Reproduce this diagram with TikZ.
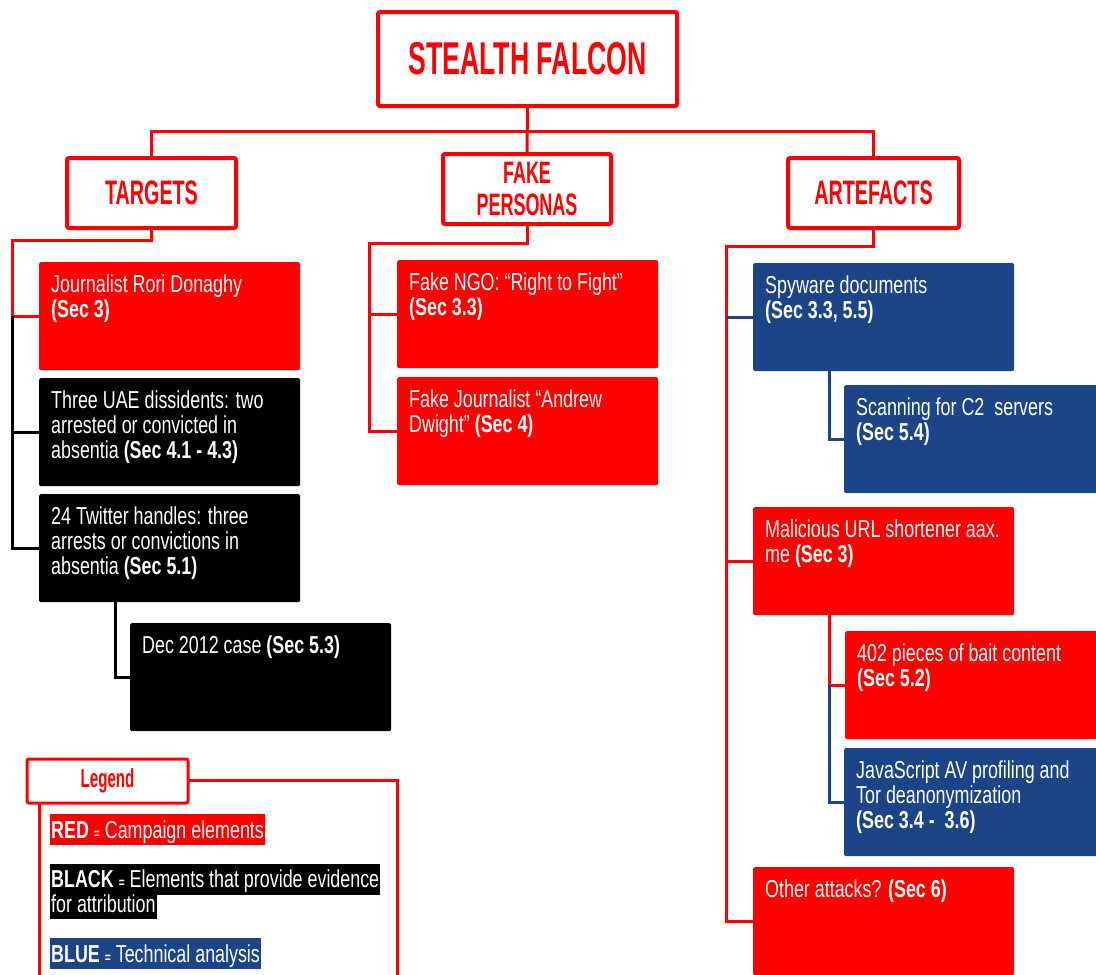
\documentclass[tikz,border=0pt]{standalone}
\usepackage{fontspec}
\setmainfont{Liberation Sans}[FakeStretch=0.73]
\newfontfamily\headfont{Liberation Sans}[FakeStretch=0.58]
\definecolor{sfred}{HTML}{FF0000}
\definecolor{sfblue}{HTML}{1C4587}
\newcommand\cellbox[5]{%
  \node[#2] (#1) at (#3,#4) {};
  \node[celltext] (#1t) at ([xshift=12pt,yshift=-13pt]#1.north west) {#5};}
\begin{document}
\begin{tikzpicture}[x=1pt,y=-1pt,
  head/.style={draw=sfred, line width=4pt, fill=white, rounded corners=2pt,
    text=sfred, font=\headfont\bfseries, align=center, inner sep=0pt},
  cell/.style={rounded corners=1.5pt, inner sep=0pt, anchor=north west,
    minimum width=261pt, minimum height=108pt},
  redcell/.style={cell, fill=sfred},
  blackcell/.style={cell, fill=black},
  bluecell/.style={cell, fill=sfblue},
  celltext/.style={text=white, font=\fontsize{24.5}{25}\selectfont, align=left,
    inner sep=0pt, anchor=north west},
  redline/.style={draw=sfred, line width=3pt},
  blackline/.style={draw=black, line width=3pt},
  blueline/.style={draw=sfblue, line width=3pt},
  legtext/.style={text=white, font=\fontsize{24.5}{25}\selectfont, inner xsep=1pt,
    inner ysep=0pt, anchor=north west}]
\useasboundingbox (0,0) rectangle (1096,975);
\fill[white] (0,0) rectangle (1096,975);

% headings
\node[head, minimum width=299pt, minimum height=94pt, font=\headfont\bfseries\fontsize{46}{48}\selectfont] (root) at (527.5,59) {STEALTH FALCON};
\node[head, minimum width=169pt, minimum height=70pt, font=\headfont\bfseries\fontsize{34}{36}\selectfont] (targets) at (151.5,193) {TARGETS};
\node[head, minimum width=168pt, minimum height=70pt, font=\headfont\bfseries\fontsize{31}{32}\selectfont] (fake) at (527,189) {FAKE\\PERSONAS};
\node[head, minimum width=171pt, minimum height=70pt, font=\headfont\bfseries\fontsize{34}{36}\selectfont] (artefacts) at (873.5,193) {ARTEFACTS};

% connectors between headings
\coordinate (bus) at (527,131);
\draw[redline] (root.south) -- (fake.north);
\draw[redline] (targets.north) |- (bus) -| (artefacts.north);

% targets column
\cellbox{journ}{redcell}{39}{262}{Journalist Rori Donaghy\\\textbf{(Sec 3)}}
\cellbox{uae}{blackcell}{39}{378}{Three UAE dissidents: two\\arrested or convicted in\\absentia \textbf{(Sec 4.1 - 4.3)}}
\cellbox{twit}{blackcell}{39}{494}{24 Twitter handles: three\\arrests or convictions in\\absentia \textbf{(Sec 5.1)}}
\cellbox{dec}{blackcell}{130}{623}{Dec 2012 case \textbf{(Sec 5.3)}}
\coordinate (tl) at (12,240);
\draw[redline] (targets.south) |- (tl) |- (journ.west);
\draw[blackline] (tl |- journ.west) |- (uae.west);
\draw[blackline] (tl |- journ.west) |- (twit.west);
\draw[blackline] ([xshift=76pt]twit.south west) |- (dec.west);

% fake personas column
\cellbox{ngo}{redcell}{397}{260}{Fake NGO: “Right to Fight”\\\textbf{(Sec 3.3)}}
\cellbox{fj}{redcell}{397}{377}{Fake Journalist “Andrew\\Dwight” \textbf{(Sec 4)}}
\coordinate (fl) at (369,243);
\draw[redline] (fake.south) |- (fl) |- (ngo.west);
\draw[redline] (fl) |- (fj.west);

% artefacts column
\cellbox{spy}{bluecell}{753}{263}{Spyware documents\\\textbf{(Sec 3.3, 5.5)}}
\cellbox{scan}{bluecell}{844}{385}{Scanning for C2\ \ servers\\\textbf{(Sec 5.4)}}
\cellbox{mal}{redcell}{753}{507}{Malicious URL shortener aax.\\me \textbf{(Sec 3)}}
\cellbox{bait}{redcell}{845}{631}{402 pieces of bait content\\\textbf{(Sec 5.2)}}
\cellbox{js}{bluecell}{844}{748}{JavaScript AV profiling and\\Tor deanonymization\\\textbf{(Sec 3.4 -\ \ 3.6)}}
\cellbox{other}{redcell}{753}{867}{Other attacks? \textbf{(Sec 6)}}
\coordinate (al) at (726,246);
\draw[redline] (artefacts.south) |- (al) |- (other.west);
\draw[redline] (al |- mal.west) -- (mal.west);
\draw[blueline] (al |- spy.west) -- (spy.west);
\draw[blueline] ([xshift=76pt]spy.south west) |- (scan.west);
\draw[redline] ([xshift=76pt]mal.south west) |- (bait.west);
\draw[blueline] ([xshift=76pt]mal.south west |- bait.west) |- (js.west);

% legend
\draw[redline] (39,780) rectangle (397,1000);
\node[head, line width=3pt, minimum width=161pt, minimum height=44pt, font=\headfont\bfseries\fontsize{26}{28}\selectfont] (legend) at (107.5,781) {Legend};
\node[legtext, fill=sfred, text height=24pt, text depth=7pt] (legred) at (50,814)
  {\textbf{RED} {\bfseries\fontsize{14}{14}\selectfont =} Campaign elements};
\node[legtext, fill=black, text height=23pt, text depth=8pt] (legblack) at (50,864)
  {\textbf{BLACK} {\bfseries\fontsize{14}{14}\selectfont =} Elements that provide evidence};
\node[legtext, fill=black, text height=17pt, text depth=7pt] (legblack2) at (50,895)
  {for attribution};
\node[legtext, fill=sfblue, text height=24pt, text depth=7pt] (legblue) at (50,938)
  {\textbf{BLUE} {\bfseries\fontsize{14}{14}\selectfont =} Technical analysis};
\end{tikzpicture}
\end{document}
